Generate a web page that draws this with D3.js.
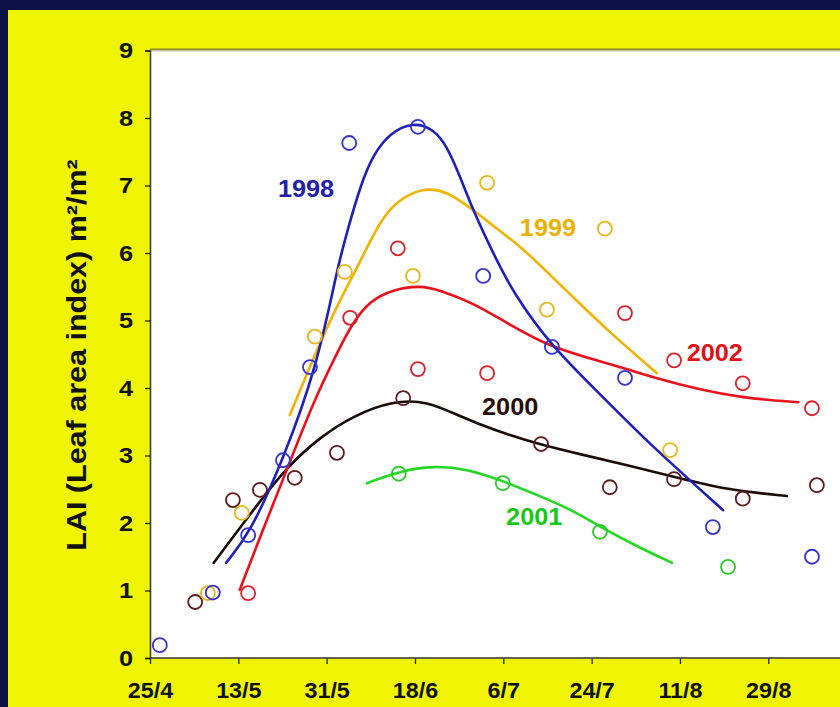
<!DOCTYPE html>
<html>
<head>
<meta charset="utf-8">
<script src="https://cdn.jsdelivr.net/npm/d3@7"></script>
<style>
  html, body { margin: 0; padding: 0; background: #0c1148; overflow: hidden; }
  svg { display: block; }
  text { font-family: "Liberation Sans", Arial, Helvetica, sans-serif; font-weight: bold; }
</style>
</head>
<body>
<script>
// ---- Data (x = day of year, non-leap; y = LAI m2/m2) ----
const tickDays   = [115, 133, 151, 169, 187, 205, 223, 241];
const tickLabels = ["25/4", "13/5", "31/5", "18/6", "6/7", "24/7", "11/8", "29/8"];
const yTicks     = [0, 1, 2, 3, 4, 5, 6, 7, 8, 9];

const years = ["1998", "1999", "2000", "2001", "2002"];

// observed points
const obsDays1998 = [117, 127.8, 135, 142.1, 147.6, 155.6, 169.6, 182.9, 196.9, 211.8, 229.7, 249.9];
const obsLai1998  = [0.19, 0.97, 1.82, 2.93, 4.31, 7.63, 7.87, 5.66, 4.61, 4.15, 1.94, 1.50];
const obsDays1999 = [126.8, 133.7, 148.6, 154.7, 168.6, 183.7, 195.9, 207.7, 221.0];
const obsLai1999  = [0.96, 2.15, 4.76, 5.72, 5.66, 7.04, 5.16, 6.36, 3.08];
const obsDays2000 = [124.2, 131.9, 137.4, 144.5, 153.1, 166.6, 194.7, 208.7, 221.8, 235.8, 250.9];
const obsLai2000  = [0.83, 2.34, 2.49, 2.67, 3.04, 3.85, 3.17, 2.53, 2.65, 2.36, 2.56];
const obsDays2001 = [165.7, 186.9, 206.7, 232.8];
const obsLai2001  = [2.73, 2.59, 1.87, 1.35];
const obsDays2002 = [135.0, 155.8, 165.5, 169.6, 183.7, 211.8, 221.8, 235.8, 249.9];
const obsLai2002  = [0.96, 5.04, 6.07, 4.28, 4.22, 5.11, 4.41, 4.07, 3.70];

// fitted curves
const fitDays1998 = [130.5, 135.4, 142.1, 149.0, 153.1, 155.1, 157.8, 160.4, 163.9, 168.6, 172.7, 175.5, 178.2, 180.8, 184.9, 189.0, 196.9, 206.7, 216.9, 231.8];
const fitLai1998  = [1.41, 1.85, 2.93, 4.31, 5.75, 6.30, 6.98, 7.45, 7.78, 7.94, 7.84, 7.59, 7.13, 6.64, 6.00, 5.41, 4.61, 3.91, 3.16, 2.19];
const fitDays1999 = [143.5, 149.6, 153.7, 157.2, 161.9, 165.3, 170.6, 175.5, 180.8, 185.7, 190.4, 194.5, 201.2, 208.1, 218.3];
const fitLai1999  = [3.60, 4.67, 5.30, 5.78, 6.48, 6.77, 6.97, 6.92, 6.64, 6.36, 6.10, 5.82, 5.35, 4.86, 4.22];
const fitDays2000 = [128.0, 136.0, 142.9, 149.6, 156.4, 164.5, 171.4, 178.2, 184.9, 194.5, 202.6, 212.2, 222.0, 232.6, 244.8];
const fitLai2000  = [1.41, 2.19, 2.83, 3.27, 3.59, 3.81, 3.81, 3.58, 3.38, 3.16, 3.02, 2.86, 2.68, 2.49, 2.40];
const fitDays2001 = [159.2, 165.9, 172.7, 179.6, 186.3, 193.1, 201.2, 206.7, 214.9, 221.4];
const fitLai2001  = [2.59, 2.77, 2.85, 2.80, 2.64, 2.44, 2.19, 1.94, 1.63, 1.41];
const fitDays2002 = [133.3, 137.4, 142.9, 148.2, 153.1, 156.4, 159.8, 164.5, 170.0, 174.1, 180.8, 187.8, 196.5, 204.7, 212.2, 218.9, 225.7, 235.8, 247.1];
const fitLai2002  = [1.01, 1.79, 2.79, 3.78, 4.52, 4.98, 5.29, 5.46, 5.52, 5.45, 5.26, 4.96, 4.61, 4.44, 4.28, 4.13, 4.00, 3.85, 3.79];

// label anchors (data coords)
const labelDays = [146.8, 196.1, 188.4, 193.3, 230.1];
const labelLai  = [6.95, 6.37, 3.73, 2.10, 4.53];

const yTitle = "LAI (Leaf area index) m²/m²";

// ---- Build ----
const W = 840, H = 707;
const lineColors   = {"1998": "#2020b8", "1999": "#f0b400", "2000": "#1a0a08", "2001": "#22d822", "2002": "#e8121c"};
const circleColors = {"1998": "#3434cc", "1999": "#e8b820", "2000": "#5a1c1c", "2001": "#2ec82e", "2002": "#d8202a"};
const labelColors  = {"1998": "#2020a8", "1999": "#eab000", "2000": "#2a0e0a", "2001": "#18c818", "2002": "#e0101a"};

const series = {
  "1998": {obs: d3.zip(obsDays1998, obsLai1998), fit: d3.zip(fitDays1998, fitLai1998)},
  "1999": {obs: d3.zip(obsDays1999, obsLai1999), fit: d3.zip(fitDays1999, fitLai1999)},
  "2000": {obs: d3.zip(obsDays2000, obsLai2000), fit: d3.zip(fitDays2000, fitLai2000)},
  "2001": {obs: d3.zip(obsDays2001, obsLai2001), fit: d3.zip(fitDays2001, fitLai2001)},
  "2002": {obs: d3.zip(obsDays2002, obsLai2002), fit: d3.zip(fitDays2002, fitLai2002)}
};

const svg = d3.select("body").append("svg").attr("width", W).attr("height", H);

svg.append("rect").attr("x", 0).attr("y", 0).attr("width", W).attr("height", H).attr("fill", "#0c1148");
svg.append("rect").attr("x", 8).attr("y", 10).attr("width", W - 8).attr("height", H - 10).attr("fill", "#eff500");

const pLeft = 150, pTop = 50.5, pBottom = 658, pRight = 850;
const x = d3.scaleLinear().domain([115, 115 + (pRight - pLeft) / 4.907]).range([pLeft, pRight]);
const y = d3.scaleLinear().domain([0, 9]).range([pBottom, pTop]);

// plot area
svg.append("rect").attr("x", pLeft).attr("y", pTop).attr("width", W - pLeft).attr("height", pBottom - pTop).attr("fill", "#ffffff");
svg.append("line").attr("x1", pLeft).attr("x2", W).attr("y1", pTop - 1).attr("y2", pTop - 1)
   .attr("stroke", "#8a8a30").attr("stroke-width", 2);
svg.append("line").attr("x1", pLeft).attr("x2", W).attr("y1", pTop + 0.5).attr("y2", pTop + 0.5)
   .attr("stroke", "#c8c8c8").attr("stroke-width", 1);

// axes
const xAxis = d3.axisBottom(x).tickValues(tickDays).tickFormat((d, i) => tickLabels[i]).tickSize(6).tickPadding(18);
const gx = svg.append("g").attr("transform", `translate(0,${pBottom})`).call(xAxis);
gx.select(".domain").remove();
gx.append("line").attr("x1", pLeft).attr("x2", W).attr("y1", 0).attr("y2", 0).attr("stroke", "#333").attr("stroke-width", 1.5);
gx.selectAll(".tick line").attr("stroke", "#222").attr("stroke-width", 1.3);
gx.selectAll(".tick text").attr("fill", "#111").attr("font-size", 22)
  .attr("font-family", "Liberation Sans, Arial, sans-serif").attr("font-weight", "bold")
  .attr("transform", "scale(1.06,1)");

const ySX = 1.15;
const yAxis = d3.axisLeft(y).tickValues(yTicks).tickFormat(d3.format("d")).tickSize(5).tickPadding(12);
const gy = svg.append("g").attr("transform", `translate(${pLeft},0)`).call(yAxis);
gy.select(".domain").attr("stroke", "#333").attr("stroke-width", 1.5);
gy.selectAll(".tick line").attr("stroke", "#222").attr("stroke-width", 1.3);
gy.selectAll(".tick text").attr("fill", "#111").attr("font-size", 22)
  .attr("font-family", "Liberation Sans, Arial, sans-serif").attr("font-weight", "bold")
  .attr("x", -17 / ySX).attr("transform", `scale(${ySX},1)`);

// y title
svg.append("text")
  .attr("transform", `translate(86,355) rotate(-90) scale(1.09,1)`)
  .attr("text-anchor", "middle")
  .attr("font-size", 28)
  .attr("fill", "#111")
  .text(yTitle);

// curves
const line = d3.line().x(d => x(d[0])).y(d => y(d[1])).curve(d3.curveBasis);
const order = ["2001", "2000", "2002", "1999", "1998"];
order.forEach(k => {
  svg.append("path").datum(series[k].fit).attr("d", line)
    .attr("fill", "none").attr("stroke", lineColors[k]).attr("stroke-width", 2.6)
    .attr("stroke-linecap", "round");
});
order.forEach(k => {
  svg.append("g").selectAll("circle").data(series[k].obs).join("circle")
    .attr("cx", d => x(d[0])).attr("cy", d => y(d[1])).attr("r", 7)
    .attr("fill", "none").attr("stroke", circleColors[k]).attr("stroke-width", 1.8);
});

// labels
years.forEach((k, i) => {
  svg.append("text")
    .attr("transform", `translate(${x(labelDays[i])},${y(labelLai[i])}) scale(1.1,1)`)
    .attr("dy", "0.36em")
    .attr("text-anchor", "middle")
    .attr("font-size", 23)
    .attr("fill", labelColors[k])
    .text(k);
});
</script>
</body>
</html>
